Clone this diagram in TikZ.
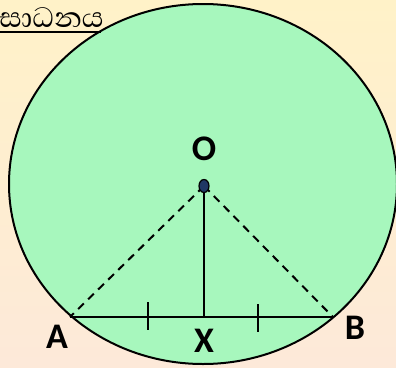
\documentclass[tikz,border=0pt]{standalone}
\usepackage{fontspec}
\setmainfont{Carlito}
\newfontfamily\sinhalafont[Script=Sinhala]{Abhaya Libre}
\usetikzlibrary{positioning}
\definecolor{circlegreen}{RGB}{167,247,189}
\definecolor{bgtop}{RGB}{255,242,200}
\definecolor{bgbottom}{RGB}{253,233,217}
\definecolor{dotblue}{RGB}{31,56,100}
\tikzset{
    ptlabel/.style={font=\fontsize{36}{36}\selectfont\bfseries, inner sep=0pt},
    solidline/.style={draw=black, line width=2pt},
    radline/.style={draw=black, line width=2pt, dash pattern=on 8pt off 6pt},
    tickmark/.style={draw=black, line width=2pt}
}
\begin{document}
\begin{tikzpicture}[x=1pt, y=-1pt]

\useasboundingbox (0,0) rectangle (396,367);
\clip (0,0) rectangle (396,367);
\shade[top color=bgtop, bottom color=bgbottom] (0,0) rectangle (396,367);

\draw[fill=circlegreen, line width=2pt] (203,184) ellipse [x radius=194, y radius=180];

\node[anchor=base east, inner sep=0pt, font=\sinhalafont\fontsize{36}{36}\selectfont] (title) at (104,27) {සාධනය};
\draw[line width=2pt] (0,32) -- (101,32);

\coordinate (O) at (204,186);
\coordinate (A) at (70,317);
\coordinate (B) at (333,317);
\coordinate (X) at (204,317);

\draw[radline] (O) -- (A);
\draw[radline] (O) -- (B);
\draw[solidline] (A) -- (B);
\draw[solidline] (O) -- (X);

\draw[tickmark] (148,302) -- (148,330);
\draw[tickmark] (258,304) -- (258,332);

\filldraw[fill=dotblue, draw=black, line width=1.2pt] (O) ellipse [x radius=5, y radius=6.5];

\node[ptlabel] (lo) at (204,149) {O};
\node[ptlabel] (la) at (57,337) {A};
\node[ptlabel] (lx) at (204,341) {X};
\node[ptlabel] (lb) at (355,328) {B};

\end{tikzpicture}
\end{document}
